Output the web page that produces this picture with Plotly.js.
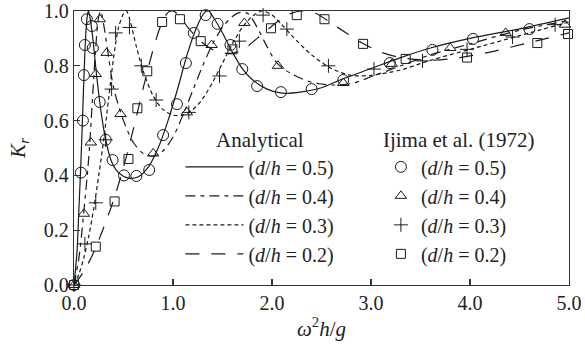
<!DOCTYPE html>
<html>
<head>
<meta charset="utf-8">
<script src="https://cdn.plot.ly/plotly-3.0.1.min.js"></script>
<style>html,body{margin:0;padding:0;background:#fff;}#chart{width:585px;height:356px;}</style>
</head>
<body>
<div id="chart"></div>
<script>
// Analytical curves
const xA05 = [0,0.03,0.05,0.07,0.09,0.11,0.13,0.145,0.16,0.19,0.23,0.27,0.32,0.38,0.45,0.55,0.65,0.75,0.85,0.95,1.05,1.15,1.25,1.32,1.36,1.42,1.5,1.6,1.7,1.8,1.95,2.1,2.3,2.5,2.7,3.0,3.3,3.6,4.0,4.5,5.0];
const yA05 = [0,0.12,0.28,0.45,0.65,0.85,0.97,1.0,0.98,0.9,0.76,0.64,0.53,0.45,0.41,0.39,0.395,0.43,0.5,0.6,0.72,0.85,0.95,0.995,1.0,0.97,0.92,0.85,0.79,0.75,0.715,0.70,0.705,0.72,0.75,0.79,0.83,0.865,0.9,0.935,0.975];
const xA04 = [0,0.05,0.1,0.15,0.19,0.22,0.25,0.27,0.3,0.35,0.4,0.5,0.6,0.7,0.8,0.9,1.0,1.1,1.2,1.3,1.4,1.5,1.6,1.68,1.76,1.85,1.95,2.05,2.2,2.4,2.6,2.8,3.0,3.3,3.6,4.0,4.5,5.0];
const yA04 = [0,0.1,0.27,0.47,0.7,0.87,0.98,1.0,0.95,0.83,0.72,0.6,0.52,0.48,0.47,0.49,0.54,0.62,0.71,0.8,0.88,0.94,0.98,0.995,0.99,0.94,0.87,0.81,0.77,0.74,0.73,0.735,0.76,0.8,0.84,0.88,0.93,0.965];
const xA03 = [0,0.05,0.1,0.15,0.2,0.25,0.3,0.35,0.4,0.45,0.5,0.53,0.57,0.63,0.7,0.8,0.9,1.0,1.1,1.2,1.3,1.4,1.5,1.6,1.7,1.8,1.9,2.0,2.1,2.2,2.4,2.6,2.8,3.0,3.3,3.6,4.0,4.5,5.0];
const yA03 = [0,0.04,0.1,0.18,0.28,0.4,0.53,0.68,0.83,0.94,0.99,1.0,0.96,0.87,0.78,0.69,0.64,0.62,0.62,0.64,0.68,0.74,0.81,0.88,0.94,0.98,1.0,0.985,0.95,0.91,0.84,0.79,0.765,0.765,0.785,0.82,0.86,0.91,0.96];
const xA02 = [0,0.1,0.2,0.3,0.4,0.5,0.6,0.7,0.8,0.88,0.95,1.0,1.07,1.15,1.25,1.35,1.45,1.55,1.65,1.75,1.85,1.95,2.05,2.15,2.3,2.45,2.6,2.75,2.9,3.1,3.3,3.6,3.9,4.2,4.6,5.0];
const yA02 = [0,0.05,0.12,0.21,0.31,0.43,0.57,0.72,0.86,0.95,0.995,1.0,0.98,0.94,0.9,0.87,0.85,0.845,0.85,0.87,0.9,0.93,0.96,0.985,1.0,0.99,0.955,0.92,0.885,0.85,0.83,0.82,0.83,0.85,0.885,0.92];

// Ijima et al. (1972) experimental points
const xE05 = [0,0.07,0.09,0.10,0.11,0.13,0.18,0.19,0.26,0.32,0.39,0.505,0.63,0.76,0.90,1.04,1.13,1.21,1.33,1.45,1.58,1.70,1.85,2.09,2.40,2.72,3.19,3.62,4.03,4.60];
const yE05 = [0,0.41,0.60,0.766,0.876,0.97,0.945,0.865,0.668,0.53,0.456,0.40,0.398,0.42,0.547,0.66,0.81,0.92,0.985,0.953,0.876,0.788,0.726,0.704,0.715,0.748,0.81,0.858,0.898,0.934];
const xE04 = [0,0.10,0.17,0.22,0.26,0.33,0.47,0.80,1.14,1.39,1.72,2.06,2.72,3.21,3.80,4.36,4.96];
const yE04 = [0,0.26,0.52,0.77,0.97,0.847,0.624,0.48,0.63,0.876,0.956,0.80,0.737,0.807,0.865,0.92,0.95];
const xE03 = [0,0.11,0.22,0.32,0.38,0.42,0.56,0.68,0.83,1.16,1.47,1.67,1.91,2.15,2.57,3.03,3.52,3.97,4.43,4.86];
const yE03 = [0,0.15,0.30,0.53,0.715,0.92,0.94,0.80,0.675,0.63,0.763,0.89,0.985,0.934,0.80,0.788,0.818,0.86,0.905,0.95];
const xE02 = [0,0.22,0.41,0.55,0.64,0.74,0.89,1.07,1.28,1.60,1.99,2.25,2.53,2.92,3.35,3.97,4.68,4.99];
const yE02 = [0,0.14,0.305,0.46,0.645,0.78,0.96,0.97,0.89,0.86,0.937,0.985,0.97,0.88,0.825,0.83,0.883,0.916];

const labels = ['(<i>d</i>/<i>h</i> = 0.5)','(<i>d</i>/<i>h</i> = 0.4)','(<i>d</i>/<i>h</i> = 0.3)','(<i>d</i>/<i>h</i> = 0.2)'];
const xTickVals = [0,1,2,3,4,5];
const xTickText = ['0.0','1.0','2.0','3.0','4.0','5.0'];
const yTickVals = [0,0.2,0.4,0.6,0.8,1.0];
const yTickText = ['0.0','0.2','0.4','0.6','0.8','1.0'];

const FONT = '"Liberation Serif", "Times New Roman", Times, serif';
const dashes = ['solid','10px,5px,4px,5px','4px,3px','14px,12px'];
const symbols = ['circle-open','triangle-up-open','cross-thin-open','square-open'];
const msizes = [11,10,10,9];

const lineX = [xA05,xA04,xA03,xA02], lineY = [yA05,yA04,yA03,yA02];
const ptX = [xE05,xE04,xE03,xE02], ptY = [yE05,yE04,yE03,yE02];

const traces = [];
for (let i=0;i<4;i++){
  traces.push({x:lineX[i], y:lineY[i], mode:'lines', name:labels[i], legend:'legend', legendgroup:'a'+i,
    line:{color:'#1a1a1a', width:1.2, dash:dashes[i], shape:'spline', smoothing:0.8}});
}
for (let i=0;i<4;i++){
  traces.push({x:ptX[i], y:ptY[i], mode:'markers', name:labels[i], legend:'legend2', legendgroup:'e'+i, cliponaxis:false,
    marker:{symbol:symbols[i], size:msizes[i], color:'#1a1a1a', line:{width:1, color:'#1a1a1a'}}});
}

const axisCommon = {showline:true, linecolor:'#333', linewidth:1.2, mirror:true, ticks:'inside', ticklen:6, tickwidth:1.2, tickcolor:'#333',
  showgrid:false, zeroline:false, ticklabeloverflow:'allow', tickfont:{family:FONT, size:20, color:'#222'}};

const layout = {
  width:585, height:356,
  margin:{l:74, r:16, t:11, b:71},
  paper_bgcolor:'#fff', plot_bgcolor:'#fff',
  font:{family:FONT, size:20, color:'#222'},
  xaxis:Object.assign({}, axisCommon, {range:[0,5], tickvals:xTickVals, ticktext:xTickText,
    title:{text:'<i>ω</i><sup>2</sup><i>h</i>/<i>g</i>', font:{family:FONT, size:21, color:'#222'}, standoff:8}}),
  yaxis:Object.assign({}, axisCommon, {range:[0,1], tickvals:yTickVals, ticktext:yTickText,
    title:{text:'<i>K<sub>r</sub></i>', font:{family:FONT, size:21, color:'#222'}, standoff:12}}),
  showlegend:true,
  legend:{x:0.215, y:0.602, xanchor:'left', yanchor:'top', bgcolor:'rgba(0,0,0,0)', borderwidth:0,
    font:{family:FONT, size:20, color:'#222'}, itemwidth:58, tracegroupgap:0, traceorder:'normal',
    title:{text:'Analytical', side:'top center', font:{family:FONT, size:21, color:'#222'}}},
  legend2:{x:0.62, y:0.602, xanchor:'left', yanchor:'top', bgcolor:'rgba(0,0,0,0)', borderwidth:0,
    font:{family:FONT, size:20, color:'#222'}, itemwidth:30, tracegroupgap:0, traceorder:'normal',
    title:{text:'Ijima et al. (1972)', side:'top', font:{family:FONT, size:21, color:'#222'}}}
};

Plotly.newPlot('chart', traces, layout, {staticPlot:true, displayModeBar:false});
</script>
</body>
</html>
